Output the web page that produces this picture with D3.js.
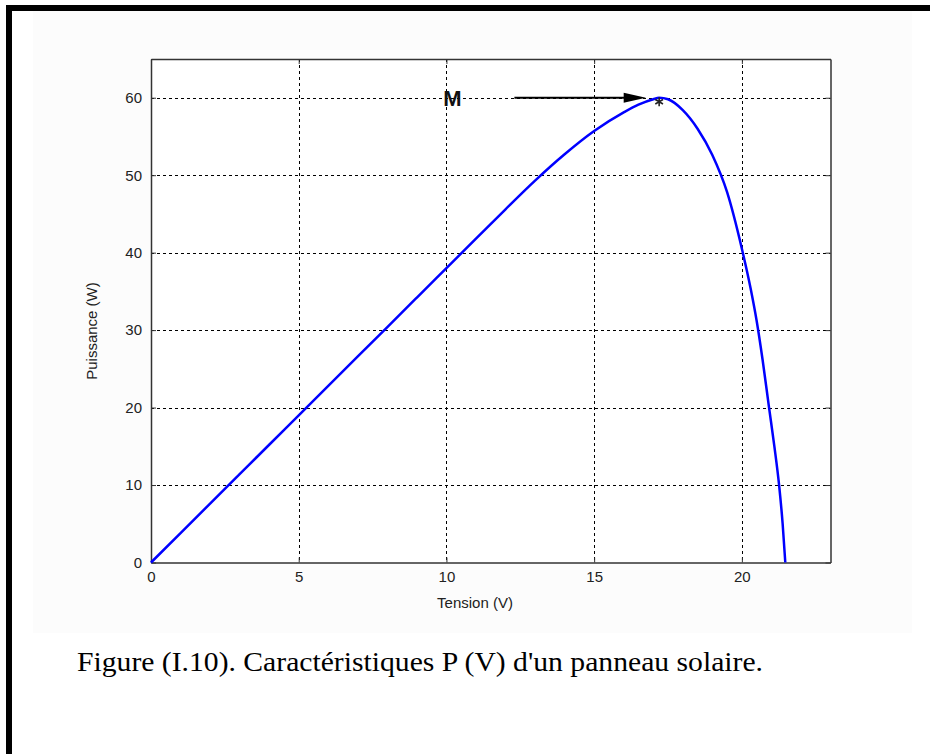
<!DOCTYPE html>
<html>
<head>
<meta charset="utf-8">
<script src="https://cdn.jsdelivr.net/npm/d3@7"></script>
<style>
  html, body { margin: 0; padding: 0; background: #fff; }
  svg { display: block; }
</style>
</head>
<body>
<svg id="chart" width="930" height="754"></svg>
<script>
// ---- data ----
const voltage = [0, 1, 2, 3, 4, 5, 6, 7, 8, 9, 10, 11, 12, 13, 14, 15, 16, 16.5, 17, 17.2, 17.5, 18, 18.5, 19, 19.5, 20, 20.3, 20.5, 20.7, 20.92, 21.1, 21.26, 21.38, 21.47];
const power   = [0, 3.8, 7.6, 11.4, 15.2, 19.0, 22.8, 26.6, 30.4, 34.2, 38.0, 41.8, 45.6, 49.3, 52.7, 55.7, 58.1, 59.1, 59.8, 60.0, 59.8, 58.4, 56.0, 52.6, 47.8, 40.5, 35.3, 31.2, 26.2, 20.0, 15.0, 10.0, 5.0, 0];
const xTicks = [0, 5, 10, 15, 20];
const yTicks = [0, 10, 20, 30, 40, 50, 60];
const xDomain = [0, 23];
const yDomain = [0, 65];
const mppPoint = [17.2, 60];
const labels = { x: "Tension (V)", y: "Puissance (W)", mpp: "M",
  caption: "Figure (I.10). Caractéristiques P (V) d'un panneau solaire." };

// ---- layout ----
const svg = d3.select("#chart");
const L = 151, R = 830.5, T = 59, B = 562.5;

// frame
svg.append("rect").attr("x", 33).attr("y", 11).attr("width", 879).attr("height", 622).attr("fill", "#fcfcfc");
svg.append("rect").attr("x", 6).attr("y", 5).attr("width", 924).attr("height", 6).attr("fill", "#000");
svg.append("rect").attr("x", 6).attr("y", 5).attr("width", 6).attr("height", 749).attr("fill", "#000");

const x = d3.scaleLinear().domain(xDomain).range([L, R]);
const y = d3.scaleLinear().domain(yDomain).range([B, T]);

// plot background
svg.append("rect").attr("x", L).attr("y", T).attr("width", R - L).attr("height", B - T).attr("fill", "#fff");

// grid
const grid = svg.append("g").attr("stroke", "#000").attr("stroke-width", 1).attr("stroke-dasharray", "3,3");
grid.selectAll("line.v").data(xTicks.filter(d => d > 0)).enter().append("line")
  .attr("x1", d => Math.round(x(d)) + 0.5).attr("x2", d => Math.round(x(d)) + 0.5)
  .attr("y1", T).attr("y2", B);
grid.selectAll("line.h").data(yTicks.filter(d => d > 0)).enter().append("line")
  .attr("y1", d => Math.round(y(d)) + 0.5).attr("y2", d => Math.round(y(d)) + 0.5)
  .attr("x1", L).attr("x2", R);

// axes (MATLAB-style box with inner ticks)
const axisColor = "#333";
const fontAx = "Arial, 'Liberation Sans', sans-serif";
const xAxisB = d3.axisBottom(x).tickValues(xTicks).tickSizeInner(-5).tickSizeOuter(0).tickPadding(9).tickFormat(d3.format("d"));
const xAxisT = d3.axisTop(x).tickValues(xTicks).tickSizeInner(-5).tickSizeOuter(0).tickFormat("");
const yAxisL = d3.axisLeft(y).tickValues(yTicks).tickSizeInner(-5).tickSizeOuter(0).tickPadding(9).tickFormat(d3.format("d"));
const yAxisR = d3.axisRight(y).tickValues(yTicks).tickSizeInner(-5).tickSizeOuter(0).tickFormat("");

function style(g) {
  g.select(".domain").attr("stroke", axisColor).attr("stroke-width", 1.5);
  g.selectAll(".tick line").attr("stroke", axisColor);
  g.selectAll(".tick text").attr("fill", "#222").attr("font-family", fontAx).attr("font-size", 15);
}
svg.append("g").attr("transform", `translate(0,${B})`).call(xAxisB).call(style);
svg.append("g").attr("transform", `translate(0,${T})`).call(xAxisT).call(style);
svg.append("g").attr("transform", `translate(${L},0)`).call(yAxisL).call(style);
svg.append("g").attr("transform", `translate(${R},0)`).call(yAxisR).call(style);

// curve
const pts = voltage.map((v, i) => [v, power[i]]);
svg.append("path").datum(pts)
  .attr("fill", "none").attr("stroke", "#0000ff").attr("stroke-width", 2.5)
  .attr("d", d3.line().x(d => x(d[0])).y(d => y(d[1])).curve(d3.curveMonotoneX));

// MPP marker (asterisk)
svg.append("path")
  .attr("transform", `translate(${x(mppPoint[0])},${y(mppPoint[1]) + 4})`)
  .attr("d", d3.symbol().type(d3.symbolAsterisk).size(55)())
  .attr("fill", "none").attr("stroke", "#222").attr("stroke-width", 1.6);

// arrow
const ay = y(mppPoint[1]);
svg.append("line").attr("x1", x(12.3)).attr("x2", x(16.2)).attr("y1", ay).attr("y2", ay)
  .attr("stroke", "#000").attr("stroke-width", 2);
svg.append("path")
  .attr("d", `M${x(16.0)},${ay - 5}L${x(16.75)},${ay}L${x(16.0)},${ay + 5}Z`).attr("fill", "#000");

// M label
svg.append("text").attr("x", x(10.2)).attr("y", ay + 8).attr("text-anchor", "middle")
  .attr("font-family", fontAx).attr("font-size", 22).attr("font-weight", "bold").attr("fill", "#111").text(labels.mpp);

// axis labels
svg.append("text").attr("x", 475).attr("y", 608).attr("text-anchor", "middle")
  .attr("font-family", fontAx).attr("font-size", 15).attr("fill", "#222").text(labels.x);
svg.append("text").attr("transform", "translate(97,331) rotate(-90)").attr("text-anchor", "middle")
  .attr("font-family", fontAx).attr("font-size", 15).attr("fill", "#222").text(labels.y);

// caption
svg.append("text").attr("x", 77).attr("y", 671)
  .attr("font-family", "'Liberation Serif', 'Times New Roman', serif").attr("font-size", 27).attr("fill", "#000")
  .attr("textLength", 686).attr("lengthAdjust", "spacingAndGlyphs")
  .text(labels.caption);
</script>
</body>
</html>
